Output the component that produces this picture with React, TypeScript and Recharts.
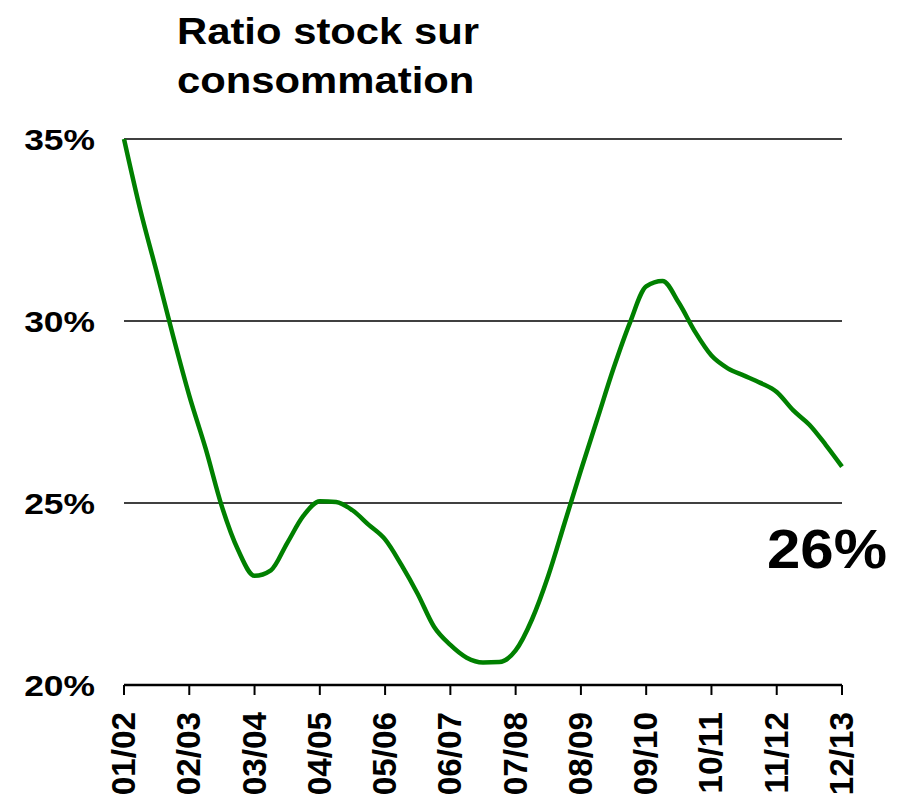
import React from "react";
import { LineChart, Line, XAxis, YAxis, CartesianGrid } from "recharts";

// season labels (one tick per season)
const seasons = ["01/02", "02/03", "03/04", "04/05", "05/06", "06/07", "07/08", "08/09", "09/10", "10/11", "11/12", "12/13"];

// ratio read every quarter of a season, in %
const ratio = [
  35.0, 33.05, 31.35, 29.6,
  27.95, 26.5, 24.9, 23.7,
  23.0, 23.15, 23.9, 24.65,
  25.05, 25.03, 24.8, 24.4,
  24.0, 23.3, 22.5, 21.6,
  21.1, 20.75, 20.62, 20.63,
  20.95, 21.8, 23.0, 24.45,
  25.9, 27.3, 28.7, 29.95,
  30.95, 31.1, 30.5, 29.7,
  29.05, 28.7, 28.5, 28.3,
  28.05, 27.55, 27.15, 26.6,
  26.0,
];

const yTicks = [20, 25, 30, 35];
const lastLabel = "26%";

const data = ratio.map((v, i) => ({ t: i / 4, v }));
const xTicks = seasons.map((_, i) => i);

const FONT = "'Liberation Sans', Arial, Helvetica, sans-serif";

function XTick(props: any) {
  const { x, y, payload } = props;
  return (
    <g transform={`translate(${x + 11},${y}) rotate(-90) scale(1.04,1.05)`}>
      <text x={0} y={0} textAnchor="end" fontFamily={FONT} fontWeight="bold" fontSize={32} fill="#000">
        {seasons[payload.value]}
      </text>
    </g>
  );
}

function YTick(props: any) {
  const { x, y, payload } = props;
  return (
    <g transform={`translate(${x},${y}) scale(1.18,1)`}>
      <text x={0} y={0} textAnchor="end" dominantBaseline="central" fontFamily={FONT} fontWeight="bold" fontSize={30} fill="#000">
        {payload.value + "%"}
      </text>
    </g>
  );
}

export default function App() {
  return (
    <div style={{ position: "relative", width: 910, height: 811, background: "#fff", fontFamily: FONT }}>
      <style>{"body{margin:0}"}</style>
      <LineChart width={910} height={811} data={data} margin={{ top: 139, right: 68, bottom: 10, left: 24 }}>
        <CartesianGrid vertical={false} stroke="#000" strokeWidth={1.5} />
        <XAxis
          dataKey="t"
          type="number"
          domain={[0, 11]}
          ticks={xTicks}
          interval={0}
          height={116}
          axisLine={{ stroke: "#000", strokeWidth: 2.5 }}
          tickLine={{ stroke: "#000", strokeWidth: 2 }}
          tickSize={10}
          tickMargin={17}
          tick={<XTick />}
        />
        <YAxis
          type="number"
          domain={[20, 35]}
          ticks={yTicks}
          width={100}
          axisLine={false}
          tickLine={false}
          tickSize={0}
          tickMargin={29}
          tick={<YTick />}
        />
        <Line type="monotone" dataKey="v" stroke="#008000" strokeWidth={4.5} dot={false} isAnimationActive={false} />
      </LineChart>
      <div
        style={{
          position: "absolute",
          left: 177,
          top: 7,
          fontSize: 37,
          fontWeight: "bold",
          lineHeight: "49px",
          color: "#000",
          whiteSpace: "nowrap",
          transform: "scaleX(1.13)",
          transformOrigin: "left top",
        }}
      >
        Ratio stock sur
        <br />
        consommation
      </div>
      <div
        style={{
          position: "absolute",
          left: 767,
          top: 521,
          fontSize: 56,
          fontWeight: "bold",
          lineHeight: "56px",
          color: "#000",
          transform: "scaleX(1.07)",
          transformOrigin: "left top",
        }}
      >
        {lastLabel}
      </div>
    </div>
  );
}
